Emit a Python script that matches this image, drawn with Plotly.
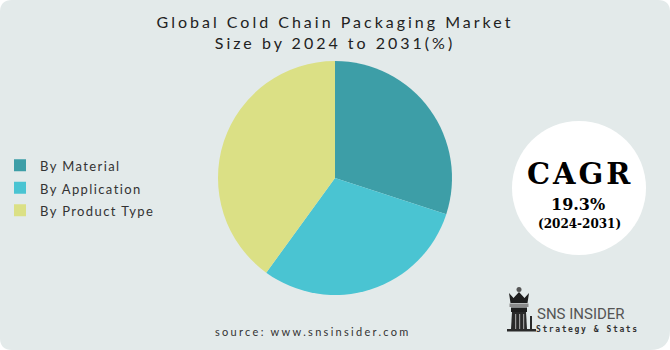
import plotly.graph_objects as go

# ---- data ----
categories = ["By Material", "By Application", "By Product Type"]
shares = [30, 30, 40]
slice_colors = ["#3d9ea7", "#4ac4d2", "#dbe085"]
title_lines = ["Global Cold Chain Packaging Market", "Size by 2024 to 2031(%)"]
cagr_label = "CAGR"
cagr_value = "19.3%"
cagr_period = "(2024-2031)"
source_text = "source: www.snsinsider.com"
brand_name = "SNS INSIDER"
brand_tagline = "Strategy &amp; Stats"

W, H = 670, 350
BG = "#e3eaea"


def px(x):
    return x / W


def py(y):
    return 1 - y / H


def sp(text, size=None, ls=None):
    style = []
    if size:
        style.append(f"font-size:{size}px")
    if ls is not None:
        style.append(f"letter-spacing:{ls}px")
    return f'<span style="{";".join(style)}">{text}</span>'


# pie geometry (pixels)
cx, cy, R = 335, 178, 117

legend_labels = [sp(c, 13, 1.4) for c in categories]

fig = go.Figure(
    go.Pie(
        labels=legend_labels,
        values=shares,
        marker=dict(colors=slice_colors, line=dict(width=0)),
        sort=False,
        direction="clockwise",
        rotation=0,
        textinfo="none",
        hoverinfo="label+percent",
        domain=dict(x=[px(cx - R), px(cx + R)], y=[py(cy + R), py(cy - R)]),
    )
)

shapes = []


def rrect(x0, y0, x1, y1, rtl, rtr, rbr, rbl):
    return (
        f"M {px(x0 + rtl)},{py(y0)} L {px(x1 - rtr)},{py(y0)} "
        f"Q {px(x1)},{py(y0)} {px(x1)},{py(y0 + rtr)} "
        f"L {px(x1)},{py(y1 - rbr)} Q {px(x1)},{py(y1)} {px(x1 - rbr)},{py(y1)} "
        f"L {px(x0 + rbl)},{py(y1)} Q {px(x0)},{py(y1)} {px(x0)},{py(y1 - rbl)} "
        f"L {px(x0)},{py(y0 + rtl)} Q {px(x0)},{py(y0)} {px(x0 + rtl)},{py(y0)} Z"
    )


shapes.append(dict(type="path", xref="paper", yref="paper", path=rrect(0, 0, W, H, 12, 12, 20, 12),
                   fillcolor=BG, line=dict(width=0), layer="below"))
# CAGR circle
ccx, ccy, cr = 579, 188, 67
shapes.append(dict(type="circle", xref="paper", yref="paper", x0=px(ccx - cr), x1=px(ccx + cr),
                   y0=py(ccy + cr), y1=py(ccy - cr), fillcolor="white", line=dict(width=0), layer="below"))


def poly(points, color):
    d = "M " + " L ".join(f"{px(x)},{py(y)}" for x, y in points) + " Z"
    return dict(type="path", xref="paper", yref="paper", path=d, fillcolor=color, line=dict(width=0))


# SNS logo (chess king icon)
shapes.append(dict(type="circle", xref="paper", yref="paper", x0=px(516.5), x1=px(521.5), y0=py(292), y1=py(287),
                   fillcolor="#555", line=dict(width=0)))
shapes.append(poly([(509, 293), (513.5, 298), (519, 292), (524.5, 298), (529, 293), (527.5, 303), (510.5, 303)], "#1e1e1e"))
shapes.append(poly([(509.5, 303.5), (528.5, 303.5), (528.5, 307), (509.5, 307)], "#8a8a8a"))
shapes.append(poly([(511, 307.5), (527, 307.5), (527, 312), (511, 312)], "#1e1e1e"))
shapes.append(poly([(512, 312), (526, 312), (527, 329), (511, 329)], "#2a2a2a"))
for sx in (515, 519, 523):
    shapes.append(poly([(sx, 314), (sx + 1.2, 314), (sx + 1.2, 329), (sx, 329)], "#9a9a9a"))
shapes.append(poly([(507, 329), (536, 329), (536, 331.5), (507, 331.5)], "#2a2a2a"))
shapes.append(poly([(530, 316), (532, 316), (532, 330), (530, 330)], "#2a2a2a"))

annotations = [
    dict(text=sp(cagr_label, None, 3), x=px(ccx + 1), y=py(193), xref="paper", yref="paper",
         showarrow=False, xanchor="center", yanchor="bottom",
         font=dict(family="DejaVu Serif", size=29, color="#000", weight="bold")),
    dict(text=cagr_value, x=px(ccx - 1), y=py(216), xref="paper", yref="paper",
         showarrow=False, xanchor="center", yanchor="bottom",
         font=dict(family="DejaVu Serif", size=16, color="#000", weight="bold")),
    dict(text=cagr_period, x=px(ccx), y=py(233), xref="paper", yref="paper",
         showarrow=False, xanchor="center", yanchor="bottom",
         font=dict(family="DejaVu Serif", size=12, color="#000", weight="bold")),
    dict(text=sp(source_text, None, 2.3), x=px(313), y=py(340), xref="paper", yref="paper",
         showarrow=False, xanchor="center", yanchor="bottom",
         font=dict(family="Lato", size=11, color="#333")),
    dict(text=brand_name, x=px(536), y=py(324), xref="paper", yref="paper",
         showarrow=False, xanchor="left", yanchor="bottom", borderpad=0,
         font=dict(family="Roboto", size=15, color="#555")),
    dict(text=sp(brand_tagline, None, 1.6), x=px(535), y=py(323.5), xref="paper", yref="paper",
         showarrow=False, xanchor="left", yanchor="top", borderpad=0,
         font=dict(family="DejaVu Sans Mono", size=8, color="#333", weight="bold")),
]

fig.update_layout(
    width=W,
    height=H,
    margin=dict(l=0, r=0, t=0, b=0),
    paper_bgcolor="white",
    plot_bgcolor="rgba(0,0,0,0)",
    title=dict(
        text=sp(title_lines[0], None, 3) + "<br>" + sp(title_lines[1], None, 3),
        x=0.5, xanchor="center", y=py(28), yanchor="top",
        font=dict(family="Lato", size=16, color="#222"),
    ),
    showlegend=True,
    legend=dict(
        x=0, y=py(188), xanchor="left", yanchor="middle",
        font=dict(family="Lato", size=15, color="#333"),
        bgcolor="rgba(0,0,0,0)",
    ),
    shapes=shapes,
    annotations=annotations,
)

fig.write_html("out.html")
